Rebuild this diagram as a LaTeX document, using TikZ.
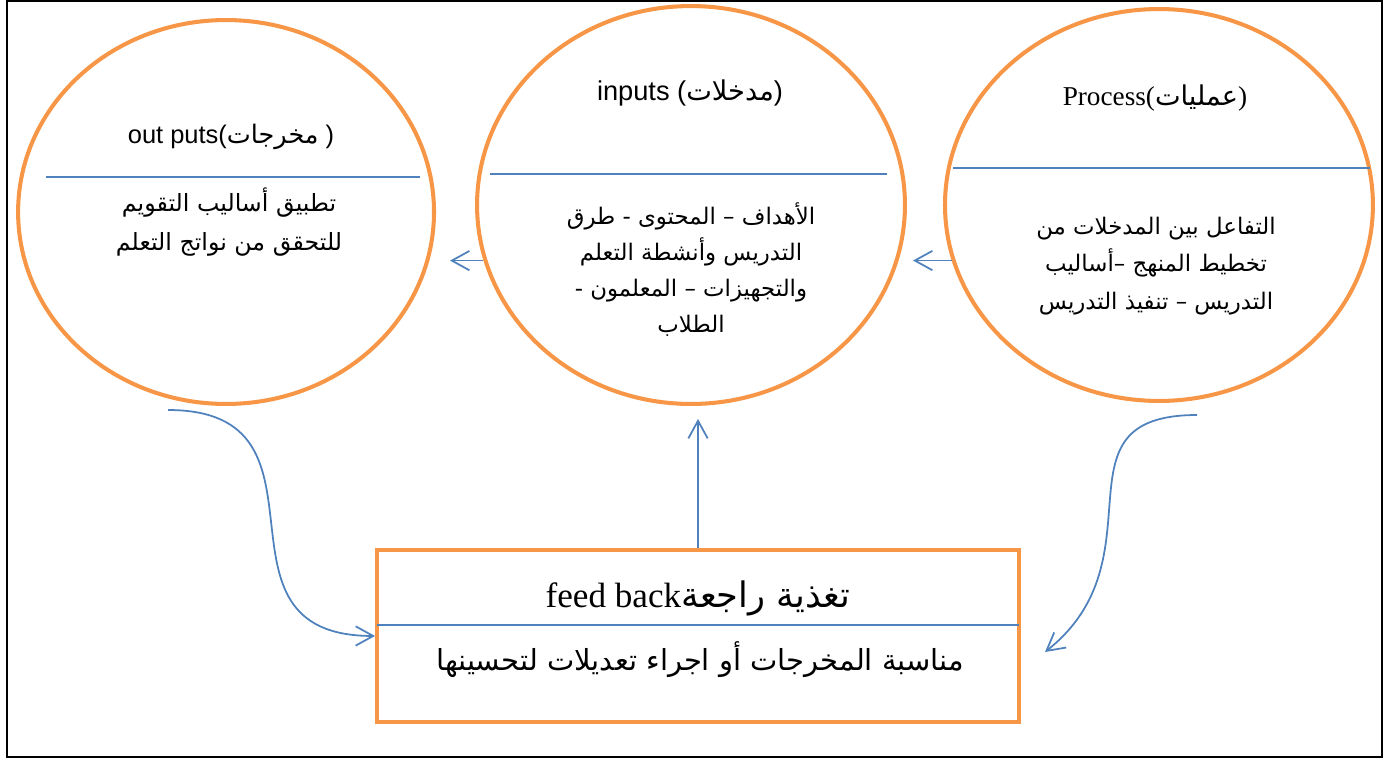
\documentclass[tikz,border=0pt]{standalone}
\usepackage{fontspec}
\setmainfont{Liberation Serif}
\newfontfamily\arialfont{Liberation Sans}
\newfontfamily\arabicfont[Script=Arabic]{DejaVu Sans}
\TeXXeTstate=1
\usetikzlibrary{positioning,shapes.geometric,arrows.meta}
\definecolor{boxorange}{HTML}{F79646}
\definecolor{lineblue}{HTML}{4F81BD}
\tikzset{phase node/.style={ellipse,draw=boxorange,line width=2.3pt,inner sep=0pt},
  feedback box/.style={rectangle,draw=boxorange,line width=2.3pt,minimum width=12.84cm,minimum height=3.44cm,inner sep=0pt},
  flow arrow/.style={draw=lineblue,line width=1pt,-{Straight Barb[length=10pt,width=11pt]}},
  split line/.style={draw=lineblue,line width=1pt},
  arabic text/.style={font=\arabicfont\fontsize{13.5}{22}\selectfont,align=center},}

\begin{document}
\begin{tikzpicture}[x=0.02cm,y=-0.02cm]
       \useasboundingbox (0,0) rectangle (1391,761);
       \draw[line width=1.2pt] (7,1) rectangle (1382,757);

       \node[phase node,minimum width=8.56cm,minimum height=7.96cm] (inputs) at (691,205) {};
       \node[phase node,minimum width=8.32cm,minimum height=7.68cm] (outputs) [left=0.78cm of inputs,yshift=-0.14cm] {};
       \node[phase node,minimum width=8.56cm,minimum height=7.84cm] (process) [right=0.72cm of inputs] {};
       \node[feedback box] (feedback) [below=2.84cm of inputs,xshift=0.14cm] {};

       \draw[split line] (46,177) -- (420,177);
       \draw[split line] (490,174) -- (887,174);
       \draw[split line] (953,168) -- (1370,168);
       \draw[split line] (377,625) -- (1019,625);

       \node[font=\arialfont\fontsize{14.5}{17}\selectfont] (outputs title) at (231,137) {out puts({\arabicfont\beginR مخرجات\endR} )};
       \node[arabic text,font=\arabicfont\fontsize{13.5}{22.7}\selectfont] (outputs body) at (229,222) {\beginR تطبيق أساليب التقويم\endR\\\beginR للتحقق من نواتج التعلم\endR};

       \node[font=\arialfont\fontsize{15.5}{18}\selectfont] (inputs title) at (690,93) {inputs ({\arabicfont\beginR مدخلات\endR})};
       \node[arabic text,font=\arabicfont\fontsize{13}{20.5}\selectfont] (inputs body) at (691,270) {\beginR الأهداف – المحتوى -  طرق\endR\\\beginR التدريس وأنشطة التعلم\endR\\\beginR والتجهيزات – المعلمون -\endR\\\beginR الطلاب\endR};

       \node[font=\fontsize{15.5}{19}\selectfont] (process title) at (1155,98) {Process({\arabicfont\beginR عمليات\endR})};
       \node[arabic text,font=\arabicfont\fontsize{13}{21.5}\selectfont] (process body) at (1156,266) {\beginR التفاعل بين المدخلات من\endR\\\beginR تخطيط المنهج –أساليب\endR\\\beginR التدريس – تنفيذ التدريس\endR};

       \node[font=\fontsize{20}{24}\selectfont] (feedback title) at (698,598) {feed back{\arabicfont\beginR تغذية راجعة\endR}};
       \node[arabic text,font=\arabicfont\fontsize{16.5}{24}\selectfont] (feedback body) at (700,660) {\beginR مناسبة المخرجات أو اجراء تعديلات لتحسينها\endR};

       \coordinate (outputs tail) at (168,410);
       \coordinate (process tail) at (1197,415);
       \coordinate (feedback right) at (1045,652);

       \draw[flow arrow,shorten >=0.28cm] (inputs.195) -- (outputs.east |- inputs.195);
       \draw[flow arrow,shorten >=0.12cm] (process.195) -- (inputs.east |- process.195);
       \draw[flow arrow,shorten >=0.26cm] (feedback.north) -- (feedback.north |- inputs.south);
       \draw[flow arrow] (outputs tail) .. controls +(180,0) and +(-180,0) .. (feedback.west);
       \draw[flow arrow] (process tail) .. controls +(-150,0) and +(120,-95) .. (feedback right);
\end{tikzpicture}
\end{document}
